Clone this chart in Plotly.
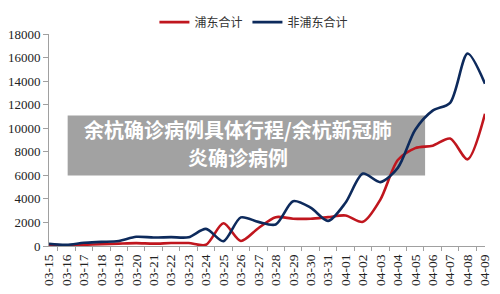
import plotly.graph_objects as go

dates = ["03-15","03-16","03-17","03-18","03-19","03-20","03-21","03-22","03-23","03-24",
         "03-25","03-26","03-27","03-28","03-29","03-30","03-31","04-01","04-02","04-03",
         "04-04","04-05","04-06","04-07","04-08","04-09"]
pudong = [100, 50, 100, 150, 200, 240, 200, 250, 250, 100,
          1930, 430, 1510, 2450, 2320, 2320, 2450, 2590, 2050, 3940,
          7300, 8310, 8520, 9120, 7360, 11220]
non_pudong = [180, 100, 270, 350, 430, 780, 720, 750, 740, 1450,
              400, 2430, 2050, 1830, 3800, 3260, 2130, 3670, 6150, 5420,
              6630, 9870, 11490, 12160, 16340, 13780]
series_names = ["浦东合计", "非浦东合计"]
y_ticks = list(range(0, 18001, 2000))
title_lines = ["余杭确诊病例具体行程/余杭新冠肺", "炎确诊病例"]

fig = go.Figure()
fig.add_trace(go.Scatter(x=dates, y=pudong, name=series_names[0], mode="lines",
                         line=dict(color="#C0161E", width=2.6, shape="spline", smoothing=0.8)))
fig.add_trace(go.Scatter(x=dates, y=non_pudong, name=series_names[1], mode="lines",
                         line=dict(color="#0D2A5C", width=2.6, shape="spline", smoothing=0.8)))

fig.add_shape(type="rect", xref="paper", yref="paper",
              x0=(67-48)/444, x1=(431-48)/444, y0=(252-178)/222.5, y1=(252-115)/222.5,
              fillcolor="#A2A2A2", line=dict(width=0), layer="below")
for line_text, ypix in zip(title_lines, [129.5, 159]):
    fig.add_annotation(xref="paper", yref="paper", x=(240-48)/444, y=(252-ypix)/222.5,
                       text="<b>" + line_text + "</b>", showarrow=False,
                       font=dict(family="Noto Sans CJK SC", size=20, color="white"),
                       borderpad=0,
                       align="center", xanchor="center", yanchor="middle")

fig.update_layout(
    width=500, height=294,
    margin=dict(l=48, r=8, t=29.5, b=42),
    paper_bgcolor="white", plot_bgcolor="white",
    showlegend=True,
    legend=dict(orientation="h", x=0.47, xanchor="center", y=1.056, yanchor="middle",
                font=dict(family="Noto Sans CJK SC", size=12, color="#333333"),
                bgcolor="rgba(0,0,0,0)", itemwidth=30, tracegroupgap=0),
    xaxis=dict(type="category", showline=True, linecolor="#A0A0A0", linewidth=1,
               ticks="outside", tickson="boundaries", ticklen=4, tickcolor="#A0A0A0",
               tickangle=-90, showgrid=False, zeroline=False, ticklabelstandoff=2,
               tickfont=dict(family="Liberation Serif", size=13.5, color="#222222")),
    yaxis=dict(range=[0, 18000], tickvals=y_ticks, tickformat="d", showline=True,
               linecolor="#A0A0A0", linewidth=1, ticks="outside", ticklen=5,
               tickcolor="#A0A0A0", showgrid=False, zeroline=False,
               tickfont=dict(family="Liberation Serif", size=13, color="#222222")),
)

fig.write_html("out.html")
